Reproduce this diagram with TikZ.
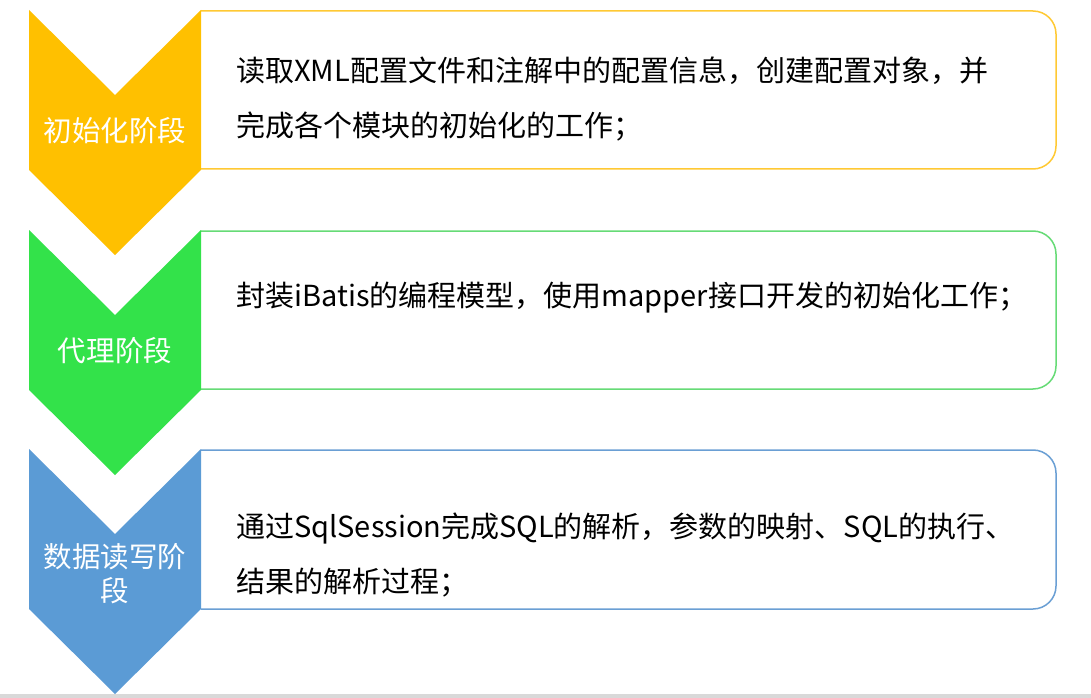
\documentclass[tikz,border=0pt]{standalone}
\usepackage{fontspec}
\newfontfamily\cjk{Noto Sans CJK SC}
\definecolor{cyel}{HTML}{FFC000}
\definecolor{cyelb}{HTML}{FFC933}
\definecolor{cgrn}{HTML}{33E24A}
\definecolor{cgrnb}{HTML}{66DB76}
\definecolor{cblu}{HTML}{5B9BD5}
\definecolor{cblub}{HTML}{6A9FD4}
\definecolor{cgray}{HTML}{D9D9D9}
\begin{document}
\begin{tikzpicture}[x=1bp,y=-1bp,
  descbox/.style={line width=1.5bp, fill=white, rounded corners=23bp},
  desctext/.style={anchor=west, align=left, inner sep=0pt, text=black, font=\cjk\fontsize{29bp}{55bp}\selectfont},
  chevlabel/.style={align=center, inner sep=0pt, text=white, font=\cjk\fontsize{28.5bp}{34bp}\selectfont}]
\useasboundingbox (0,0) rectangle (1091,698);
\fill[white] (0,0) rectangle (1091,698);
\fill[cgray] (0,694) rectangle (1091,698);
% description boxes
\draw[descbox, draw=cyelb] (201,11) -- (1056,11) -- (1056,169) -- (201,169);
\draw[descbox, draw=cgrnb] (201,231) -- (1056,231) -- (1056,389) -- (201,389);
\draw[descbox, draw=cblub] (201,450) -- (1056,450) -- (1056,609) -- (201,609);
% chevrons
\fill[cyel] (29,10) -- (115,95) -- (201,10) -- (201,170) -- (115,255) -- (29,170) -- cycle;
\fill[cgrn] (29,230) -- (115,315) -- (201,230) -- (201,390) -- (115,475) -- (29,390) -- cycle;
\fill[cblu] (29,449) -- (115,534) -- (201,449) -- (201,609) -- (115,694) -- (29,609) -- cycle;
% labels
\node[chevlabel] (l1) at (115,131) {初始化阶段};
\node[chevlabel] (l2) at (115,351) {代理阶段};
\node[chevlabel] (l3) at (115,574) {数据读写阶\\段};
% texts
\node[desctext] (t1) at (236,99.5) {读取XML配置文件和注解中的配置信息，创建配置对象，并\\完成各个模块的初始化的工作；};
\node[desctext] (t2) at (236,298) {封装iBatis的编程模型，使用mapper接口开发的初始化工作；};
\node[desctext] (t3) at (236,555) {通过SqlSession完成SQL的解析，参数的映射、SQL的执行、\\结果的解析过程；};
\end{tikzpicture}
\end{document}
